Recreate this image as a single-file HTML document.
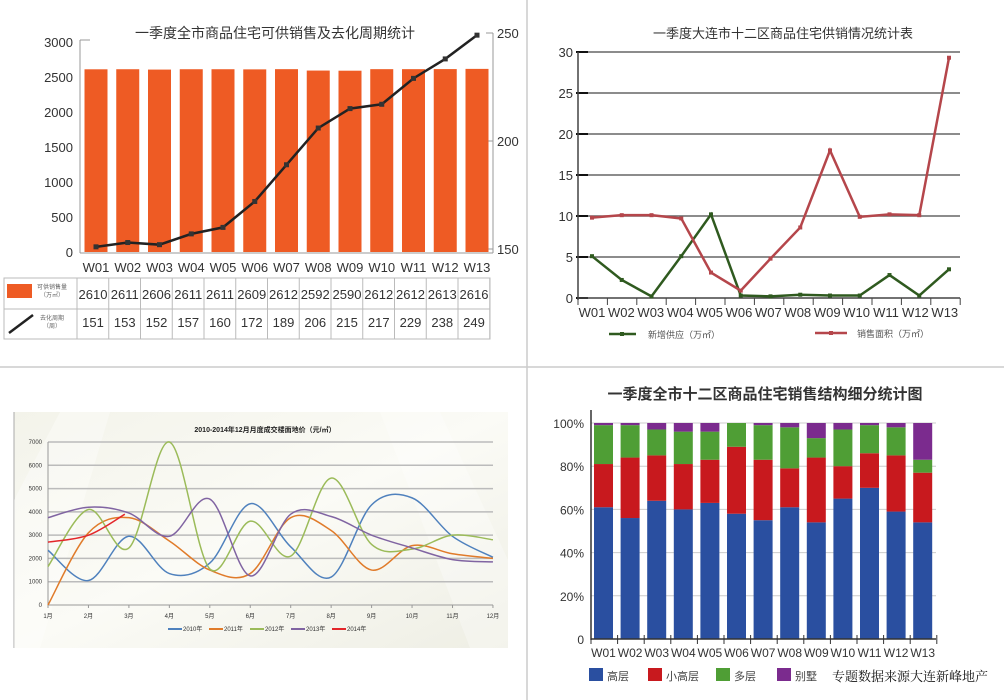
<!DOCTYPE html>
<html><head><meta charset="utf-8"><style>
html,body{margin:0;padding:0;background:#fff;}
svg{display:block;font-family:"Liberation Sans","Noto Sans CJK SC",sans-serif;}
</style></head><body>
<svg id="s" width="1004" height="700" viewBox="0 0 1004 700" xmlns="http://www.w3.org/2000/svg">
<defs>
<linearGradient id="bg" x1="0" y1="0" x2="1" y2="1">
<stop offset="0" stop-color="#f3f3ea"/><stop offset="0.5" stop-color="#fbfbf6"/><stop offset="1" stop-color="#eeeee4"/>
</linearGradient>
</defs>
<line x1="527" y1="0" x2="527" y2="700" stroke="#ccc" stroke-width="1.5"/>
<line x1="0" y1="367" x2="1004" y2="367" stroke="#ccc" stroke-width="1.5"/>
<g id="g"></g>
</svg>
<script>
var g=document.getElementById('g'),h='';
function T(x,y,t,o){o=o||{};h+='<text x="'+x+'" y="'+y+'" font-size="'+(o.s||12)+'" fill="'+(o.c||'#333')+'" text-anchor="'+(o.a||'middle')+'"'+(o.w?' font-weight="bold"':'')+(o.f?' font-family="'+o.f+'"':'')+'>'+t+'</text>';}
function L(x1,y1,x2,y2,c,w){h+='<line x1="'+x1+'" y1="'+y1+'" x2="'+x2+'" y2="'+y2+'" stroke="'+c+'" stroke-width="'+(w||1)+'"/>';}
function R(x,y,w,hh,c){h+='<rect x="'+x+'" y="'+y+'" width="'+w+'" height="'+hh+'" fill="'+c+'"/>';}
var W=[];for(var i=1;i<=13;i++)W.push('W'+(i<10?'0':'')+i);
// ---- Top-left
T(275,38,'一季度全市商品住宅可供销售及去化周期统计',{s:14});
L(80,40,80,253,'#999');L(80,40,90,40,'#999');L(80,253,493,253,'#999');L(493,33,493,253,'#999');L(486,33,493,33,'#999');
var ly=[0,500,1000,1500,2000,2500,3000];
ly.forEach(function(v){var y=252-v*210/3000;T(73,y+5,v,{s:13,a:'end'});});
[150,200,250].forEach(function(v){var y=249-(v-150)*2.16;T(497,y+5,v,{s:13,a:'start'});L(488,y,493,y,'#999');});
var bars=[2610,2611,2606,2611,2611,2609,2612,2592,2590,2612,2612,2613,2616];
var cyc=[151,153,152,157,160,172,189,206,215,217,229,238,249];
var pts=[];
for(var i=0;i<13;i++){var cx=96+i*31.75,y=252-bars[i]*210/3000;R(cx-11.5,y,23,252-y,'#ee5b24');T(cx,272,W[i],{s:13});pts.push([cx,249-(cyc[i]-150)*2.16]);}
h+='<polyline points="'+pts.map(function(p){return p.join(',')}).join(' ')+'" fill="none" stroke="#222" stroke-width="2.5"/>';
pts.forEach(function(p){R(p[0]-2.5,p[1]-2.5,5,5,'#333');});
// table
h+='<rect x="4" y="278" width="486" height="61" fill="none" stroke="#bbb"/>';L(4,309,490,309,'#bbb');
for(var i=0;i<=13;i++){L(77+i*31.75,278,77+i*31.75,339,'#bbb');}
R(7,284,25,14,'#ee5b24');T(52,289,'可供销售量',{s:6,c:'#666'});T(52,297,'（万㎡）',{s:6,c:'#666'});
L(9,333,33,315,'#222',2.5);T(52,320,'去化周期',{s:6,c:'#666'});T(52,328,'（周）',{s:6,c:'#666'});
for(var i=0;i<13;i++){var cx=93+i*31.75;T(cx,299,bars[i],{s:13});T(cx,327,cyc[i],{s:13});}
// ---- Top-right
T(783,38,'一季度大连市十二区商品住宅供销情况统计表',{s:13});
function yr(v){return 298-v*8.2;}
[0,5,10,15,20,25,30].forEach(function(v){var y=yr(v);if(v>0)L(578,y,960,y,'#666',1.5);L(576,y,588,y,'#111',2);T(573,y+5,v,{s:13,a:'end'});});
L(578,298,960,298,'#444',1.5);L(578,52,578,300,'#444',1.5);
for(var i=0;i<=13;i++){var x=578+i*29.4;L(x,298,x,305,'#444');}
var gr=[5.1,2.2,0.2,5.1,10.2,0.3,0.2,0.4,0.3,0.3,2.8,0.3,3.5],rd=[9.8,10.1,10.1,9.7,3.1,0.9,4.8,8.6,18,9.9,10.2,10.1,29.3];
function ser(d,c){var p=d.map(function(v,i){return [592+i*29.75,yr(v)]});h+='<polyline points="'+p.map(function(q){return q.join(',')}).join(' ')+'" fill="none" stroke="'+c+'" stroke-width="2.5"/>';p.forEach(function(q){R(q[0]-2,q[1]-2,4,4,c);});}
ser(gr,'#2f5a1f');ser(rd,'#b5464b');
for(var i=0;i<13;i++)T(592+i*29.4,317,W[i],{s:13});
L(609,334,636,334,'#2f5a1f',2.5);R(620,332,4,4,'#2f5a1f');T(648,338,'新增供应（万㎡）',{s:9,a:'start',c:'#555'});
L(815,333,847,333,'#b5464b',2.5);R(829,331,4,4,'#b5464b');T(857,337,'销售面积（万㎡）',{s:9,a:'start',c:'#555'});
// ---- Bottom-left
R(14,412,494,236,'url(#bg)');L(14,412,14,648,'#aaa');
h+='<polygon points="14,500 60,412 110,412 40,648 14,648" fill="#fff" opacity="0.35"/><polygon points="380,412 440,412 508,560 508,648 470,648" fill="#fff" opacity="0.3"/>';
T(265,432,'2010-2014年12月月度成交楼面地价（元/㎡）',{s:7,w:1,c:'#222'});
function X(m){return 48+(m-1)*40.45;}function Y(v){return 605-v*163/7000;}
for(var v=0;v<=7000;v+=1000){L(48,Y(v),493,Y(v),v?'#bbb':'#999',v?1.5:1);T(42,Y(v)+2,v,{s:6,a:'end'});}
L(48,442,48,605,'#999');
for(var m=1;m<=12;m++){T(X(m),618,m+'月',{s:6});L(X(m),605,X(m),608,'#999');}
function smooth(p){var d='M'+p[0][0]+','+p[0][1];for(var i=0;i<p.length-1;i++){var p0=p[i-1]||p[i],p1=p[i],p2=p[i+1],p3=p[i+2]||p2;d+=' C'+(p1[0]+(p2[0]-p0[0])/6)+','+(p1[1]+(p2[1]-p0[1])/6)+' '+(p2[0]-(p3[0]-p1[0])/6)+','+(p2[1]-(p3[1]-p1[1])/6)+' '+p2[0]+','+p2[1];}return d;}
var S=[['#4f81bd',[2350,1050,2950,1350,1800,4350,2500,1200,4300,4600,2950,2050]],
['#e07b2a',[0,3100,3750,2750,1500,1350,3750,3200,1500,2550,2200,2000]],
['#9bbb59',[1650,4100,2450,7000,1550,3600,2100,5450,2600,2400,3000,2800]],
['#8064a2',[3750,4200,3950,2950,4550,1250,3900,3800,3000,2450,1950,1850]]];
S.forEach(function(s){h+='<path d="'+smooth(s[1].map(function(v,i){return [X(i+1),Y(v)]}))+'" fill="none" stroke="'+s[0]+'" stroke-width="1.5"/>';});
h+='<path d="'+smooth([[X(1),Y(2700)],[X(2),Y(3000)],[X(2.9),Y(3900)]])+'" fill="none" stroke="#e3262a" stroke-width="1.5"/>';
var lg=[['#4f81bd','2010年'],['#e07b2a','2011年'],['#9bbb59','2012年'],['#8064a2','2013年'],['#e3262a','2014年']];
lg.forEach(function(l,i){var x=168+i*41;L(x,629,x+14,629,l[0],2);T(x+15,631,l[1],{s:6,a:'start'});});
// ---- Bottom-right
T(765,399,'一季度全市十二区商品住宅销售结构细分统计图',{s:15,w:1,c:'#333'});
function yb(p){return 639-p*2.16;}
[0,20,40,60,80,100].forEach(function(p){var y=yb(p);if(p)L(591,y,936,y,'#ccc');T(584,y+5,p?p+'%':'0',{s:12,a:'end'});});
var D=[[61,81,99],[56,84,99],[64,85,97],[60,81,96],[63,83,96],[58,89,100],[55,83,99],[61,79,98],[54,84,93],[65,80,97],[70,86,99],[59,85,98],[54,77,83]];
var C=['#2a4fa0','#c8191e','#4f9e35','#7b2b8e'];
D.forEach(function(d,i){var x=594+i*26.6,b=[0,d[0],d[1],d[2],100];for(var k=0;k<4;k++){if(b[k+1]>b[k])R(x,yb(b[k+1]),19,yb(b[k])-yb(b[k+1]),C[k]);}T(x+9.5,657,W[i],{s:12});});
L(591,410,591,640,'#333',1.5);L(591,639,936,639,'#333',1.5);
for(var i=0;i<=13;i++)L(591+i*26.6,635,591+i*26.6,644,'#333');
var lb=['高层','小高层','多层','别墅'],lx=[589,648,716,777];
lb.forEach(function(t,i){R(lx[i],668,14,13,C[i]);T(lx[i]+18,680,t,{s:11,a:'start',c:'#444'});});
T(832,681,'专题数据来源大连新峰地产',{s:13,a:'start',c:'#111',f:'Liberation Serif, Noto Serif CJK SC, serif'});
g.innerHTML=h;
</script>
</body></html>
